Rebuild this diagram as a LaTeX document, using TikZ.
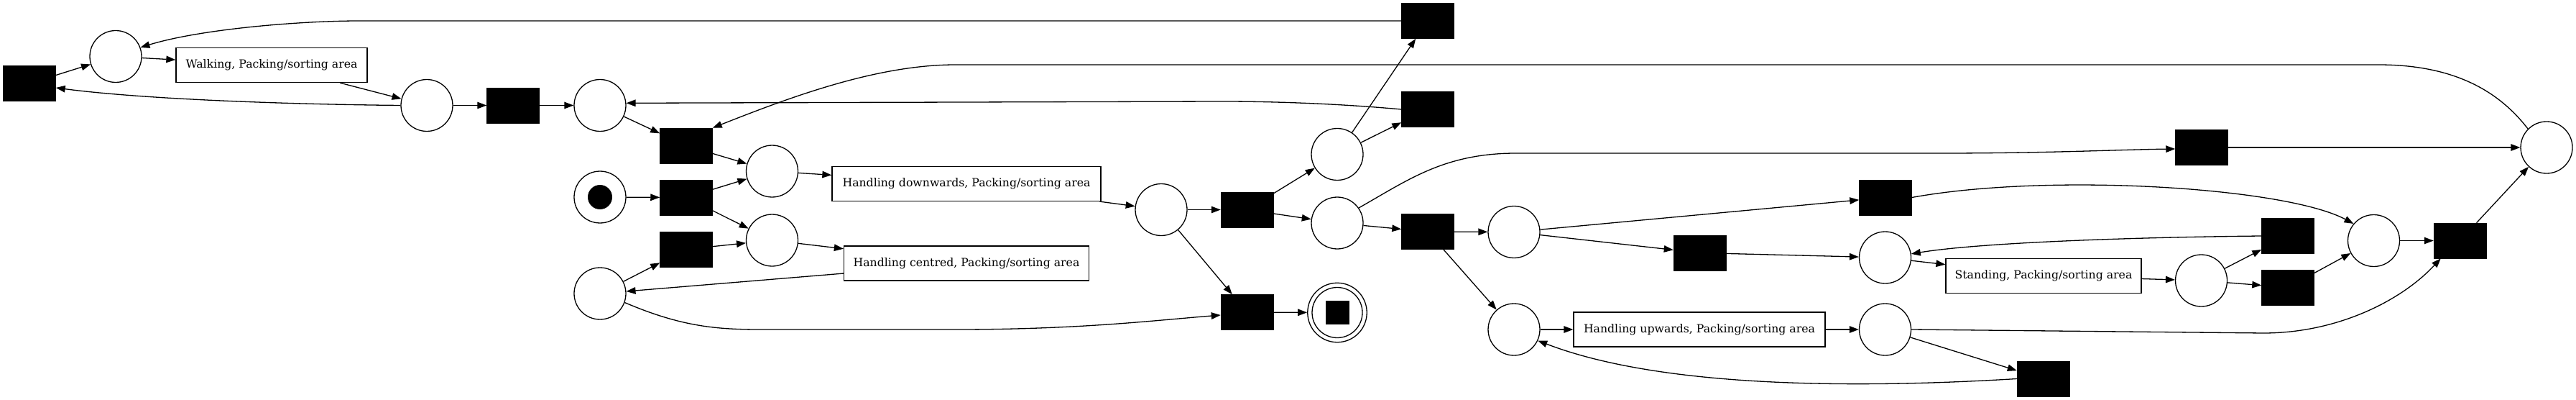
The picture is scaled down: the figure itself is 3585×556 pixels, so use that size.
\documentclass[tikz,border=0pt]{standalone}
\usepackage{fontspec}
\setmainfont{DejaVu Serif}
\usetikzlibrary{arrows.meta,calc}
\begin{document}
\begin{tikzpicture}[x=1pt,y=-1pt,
 place/.style={circle,draw,line width=1.3pt,minimum size=72pt,inner sep=0pt},
 trans/.style={rectangle,fill=black,draw=black,line width=0.5pt,minimum width=73pt,minimum height=49pt,inner sep=0pt},
 act/.style={rectangle,draw,line width=1.3pt,minimum height=48pt,inner sep=0pt,font=\fontsize{15.7}{18}\selectfont},
 arc/.style={line width=1.3pt,-{Triangle[length=13pt,width=9.5pt]}},
]
\useasboundingbox (0,0) rectangle (3585,556);
% nodes
\node[trans] (t1) at (41,116) {};
\node[place] (p1) at (161,78.5) {};
\node[act,minimum width=266pt] (walk) at (378,90.5) {Walking, Packing/sorting area};
\node[place] (p2) at (594,146.5) {};
\node[trans] (t2) at (714,146.5) {};
\node[place] (p3) at (835,146.5) {};
\node[place] (pst) at (835,274) {};
\node[circle,fill=black,minimum size=34pt,inner sep=0pt] (tok) at (835,274) {};
\node[place] (ph) at (835,408) {};
\node[trans] (ta) at (955,202.5) {};
\node[trans] (tb) at (955,274.5) {};
\node[trans] (tc) at (955,346.5) {};
\node[place] (pf) at (1074.5,238) {};
\node[place] (pg) at (1074.5,334) {};
\node[act,minimum width=374pt] (hd) at (1345,255.5) {Handling downwards, Packing/sorting area};
\node[act,minimum width=341pt] (hc) at (1345,366) {Handling centred, Packing/sorting area};
\node[place] (pb) at (1616,291.5) {};
\node[trans] (tcc) at (1735.5,291.5) {};
\node[trans] (te) at (1735.5,434) {};
\node[place] (pa) at (1861,214.5) {};
\node[place] (pc) at (1861,310) {};
\node[circle,draw,line width=1.3pt,minimum size=82.5pt,inner sep=0pt] (fin) at (1861,434.5) {};
\node[circle,draw,line width=1.3pt,minimum size=70pt,inner sep=0pt] (fini) at (1861,434.5) {};
\node[rectangle,fill=black,minimum size=33pt,inner sep=0pt] (fins) at (1861,434.5) {};
\node[trans] (ttop) at (1987,29) {};
\node[trans] (t2nd) at (1987,152) {};
\node[trans] (td) at (1987,322) {};
\node[place] (pd) at (2107,322.5) {};
\node[place] (pe) at (2107,458) {};
\node[trans] (tg) at (2365.5,351.5) {};
\node[act,minimum width=350pt] (hu) at (2365,458) {Handling upwards, Packing/sorting area};
\node[trans] (tf) at (2624,274.5) {};
\node[place] (pi) at (2623.5,358) {};
\node[place] (pj) at (2623.5,458) {};
\node[act,minimum width=272pt] (st) at (2844,383.5) {Standing, Packing/sorting area};
\node[trans] (tl) at (2843.5,526.5) {};
\node[trans] (th) at (3064,205) {};
\node[place] (pl) at (3063.5,390) {};
\node[trans] (ti) at (3184,328) {};
\node[trans] (tj) at (3184,399.5) {};
\node[place] (pm) at (3303.5,334.5) {};
\node[trans] (tk) at (3423.5,334.5) {};
\node[place] (pk) at (3544,205) {};
% arcs
\draw[arc] (t1) -- (p1);
\draw[arc] (p1) -- (walk);
\draw[arc] (walk) -- (p2);
\draw[arc] (p2.west) .. controls (400,145) and (200,138) .. ($(t1.east)+(0,6)$);
\draw[arc] (p2) -- (t2);
\draw[arc] (t2) -- (p3);
\draw[arc] (ttop.west) -- (500,29) .. controls (420,29) and (280,40) .. (p1.20);
\draw[arc] (t2nd.west) .. controls (1850,143) and (1760,141) .. (1700,141) -- (p3.5);
\draw[arc] (p3) -- (ta);
\draw[arc] (pk.135) .. controls (3480,130) and (3420,90) .. (3310,90) -- (1330,90) .. controls (1220,90) and (1100,135) .. (ta.north east);
\draw[arc] (ta) -- (pf);
\draw[arc] (pst) -- (tb);
\draw[arc] (tb) -- (pf);
\draw[arc] (tb) -- (pg);
\draw[arc] (tc) -- (pg);
\draw[arc] (ph) -- (tc);
\draw[arc] (pf) -- (hd);
\draw[arc] (pg) -- (hc);
\draw[arc] (hc) -- (ph);
\draw[arc] (ph.-20) .. controls (950,455) and (1000,458) .. (1060,458) -- (1330,458) .. controls (1500,458) and (1600,446) .. ($(te.west)+(0,4)$);
\draw[arc] (hd) -- (pb);
\draw[arc] (pb) -- (tcc);
\draw[arc] (pb) -- (te);
\draw[arc] (tcc) -- (pa);
\draw[arc] (tcc) -- (pc);
\draw[arc] (pa) -- (ttop);
\draw[arc] (pa) -- (t2nd);
\draw[arc] (pc) -- (td);
\draw[arc] (pc.35) .. controls (1960,250) and (2010,213) .. (2110,213) -- (2700,213) .. controls (2850,213) and (2950,208) .. ($(th.west)+(0,2)$);
\draw[arc] (te) -- (fin);
\draw[arc] (td) -- (pd);
\draw[arc] (td) -- (pe);
\draw[arc] (pd) -- (tf);
\draw[arc] (pd) -- (tg);
\draw[arc] (tg) -- (pi);
\draw[arc] (tf.east) .. controls (2850,240) and (3180,260) .. (pm.140);
\draw[arc] (ti.west) .. controls (2950,330) and (2750,338) .. (pi.8);
\draw[arc] (pi) -- (st);
\draw[arc] (st) -- (pl);
\draw[arc] (pl) -- (ti);
\draw[arc] (pl) -- (tj);
\draw[arc] (tj) -- (pm);
\draw[arc] (pm) -- (tk);
\draw[arc] (tk) -- (pk);
\draw[arc] (th) -- (pk);
\draw[arc] (pe) -- (hu);
\draw[arc] (hu) -- (pj);
\draw[arc] (pj.east) -- (3150,463) .. controls (3250,463) and (3340,420) .. ($(tk.south west)+(10,0)$);
\draw[arc] (pj) -- (tl);
\draw[arc] (tl.west) .. controls (2550,542) and (2300,535) .. (pe.-25);
\end{tikzpicture}
\end{document}
